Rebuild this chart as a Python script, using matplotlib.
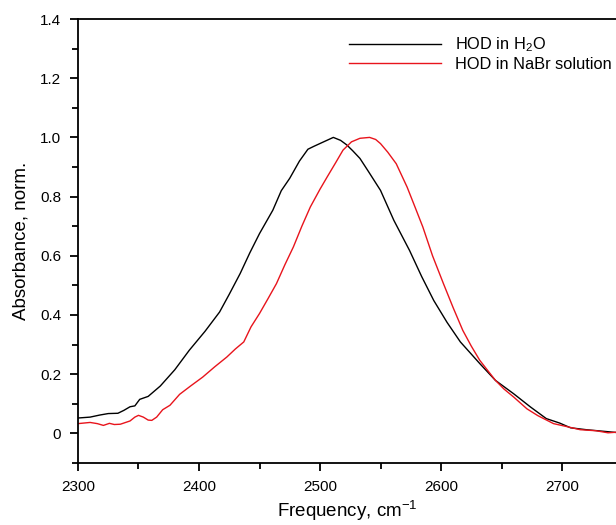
import matplotlib
matplotlib.use("Agg")
import matplotlib.pyplot as plt
from matplotlib.ticker import MultipleLocator, FuncFormatter

plt.rcParams["font.family"] = ["Liberation Sans", "DejaVu Sans"]
plt.rcParams["mathtext.fontset"] = "custom"
plt.rcParams["mathtext.rm"] = "Liberation Sans"
plt.rcParams["mathtext.it"] = "Liberation Sans:italic"

# HOD in H2O (black)
freq_h2o = [2300, 2310, 2318, 2325, 2333, 2338, 2343, 2347, 2351, 2358, 2368,
            2380, 2392, 2405, 2417, 2425, 2434, 2442, 2450, 2461, 2468, 2475,
            2483, 2490, 2495, 2503, 2511, 2517, 2522, 2527, 2533, 2540, 2550,
            2561, 2574, 2584, 2594, 2605, 2616, 2625, 2632, 2645, 2660, 2674,
            2687, 2698, 2707, 2720, 2732, 2745]
abs_h2o = [0.052, 0.055, 0.062, 0.067, 0.068, 0.078, 0.090, 0.093, 0.115, 0.125,
           0.160, 0.215, 0.281, 0.345, 0.410, 0.470, 0.540, 0.610, 0.675, 0.754,
           0.820, 0.862, 0.920, 0.960, 0.970, 0.985, 1.000, 0.990, 0.975, 0.955,
           0.929, 0.885, 0.821, 0.720, 0.618, 0.530, 0.449, 0.375, 0.309, 0.268,
           0.236, 0.179, 0.134, 0.089, 0.050, 0.035, 0.019, 0.0125, 0.008, 0.003]

# HOD in NaBr solution (red)
freq_nabr = [2300, 2310, 2316, 2321, 2326, 2330, 2335, 2343, 2347, 2350, 2354,
             2358, 2361, 2365, 2370, 2376, 2384, 2393, 2403, 2413, 2423, 2430,
             2437, 2443, 2450, 2457, 2464, 2471, 2478, 2485, 2492, 2500, 2506,
             2513, 2519, 2526, 2533, 2541, 2546, 2550, 2556, 2563, 2572, 2578,
             2585, 2593, 2602, 2610, 2618, 2625, 2632, 2645, 2652, 2660, 2671,
             2680, 2693, 2705, 2715, 2728, 2738, 2745]
abs_nabr = [0.033, 0.037, 0.033, 0.027, 0.034, 0.030, 0.031, 0.042, 0.055, 0.061,
            0.055, 0.045, 0.044, 0.055, 0.080, 0.095, 0.132, 0.160, 0.190, 0.225,
            0.258, 0.285, 0.309, 0.360, 0.405, 0.455, 0.506, 0.570, 0.630, 0.700,
            0.765, 0.825, 0.867, 0.915, 0.957, 0.985, 0.997, 1.000, 0.993, 0.979,
            0.950, 0.911, 0.832, 0.770, 0.697, 0.600, 0.506, 0.425, 0.348, 0.295,
            0.247, 0.179, 0.150, 0.123, 0.083, 0.060, 0.033, 0.022, 0.0125, 0.009,
            0.002, 0.004]

fig = plt.figure(figsize=(6.16, 5.25), dpi=100)
ax = fig.add_axes([0.1266, 0.1181, 0.8734, 0.8457])

ax.plot(freq_h2o, abs_h2o, color="black", lw=1.0, label="HOD in H$_2$O")
ax.plot(freq_nabr, abs_nabr, color="#e8141c", lw=1.0, label="HOD in NaBr solution")

ax.set_xlim(2300, 2744.6)
ax.set_ylim(-0.1, 1.4)
ax.xaxis.set_major_locator(MultipleLocator(100))
ax.xaxis.set_minor_locator(MultipleLocator(50))
ax.yaxis.set_major_locator(MultipleLocator(0.2))
ax.yaxis.set_minor_locator(MultipleLocator(0.1))
ax.yaxis.set_major_formatter(FuncFormatter(lambda v, p: "0" if abs(v) < 1e-9 else f"{v:.1f}"))

for s in ["left", "bottom", "top"]:
    ax.spines[s].set_linewidth(1.3)
ax.spines["right"].set_visible(False)
ax.tick_params(which="both", direction="out", width=1.3, top=False, right=False,
               labelsize=11)
ax.tick_params(which="major", length=6, pad=6)
ax.tick_params(which="minor", length=4)

ax.set_xlabel("Frequency, cm$^{-1}$", fontsize=13.5, labelpad=4)
ax.set_ylabel("Absorbance, norm.", fontsize=13.5, labelpad=8)

ax.legend(loc="upper right", bbox_to_anchor=(1.011, 0.985), frameon=False,
          fontsize=11.8, handlelength=5.6, handletextpad=0.9, labelspacing=0.15,
          borderaxespad=0.2)

fig.savefig("out.png", dpi=100)
